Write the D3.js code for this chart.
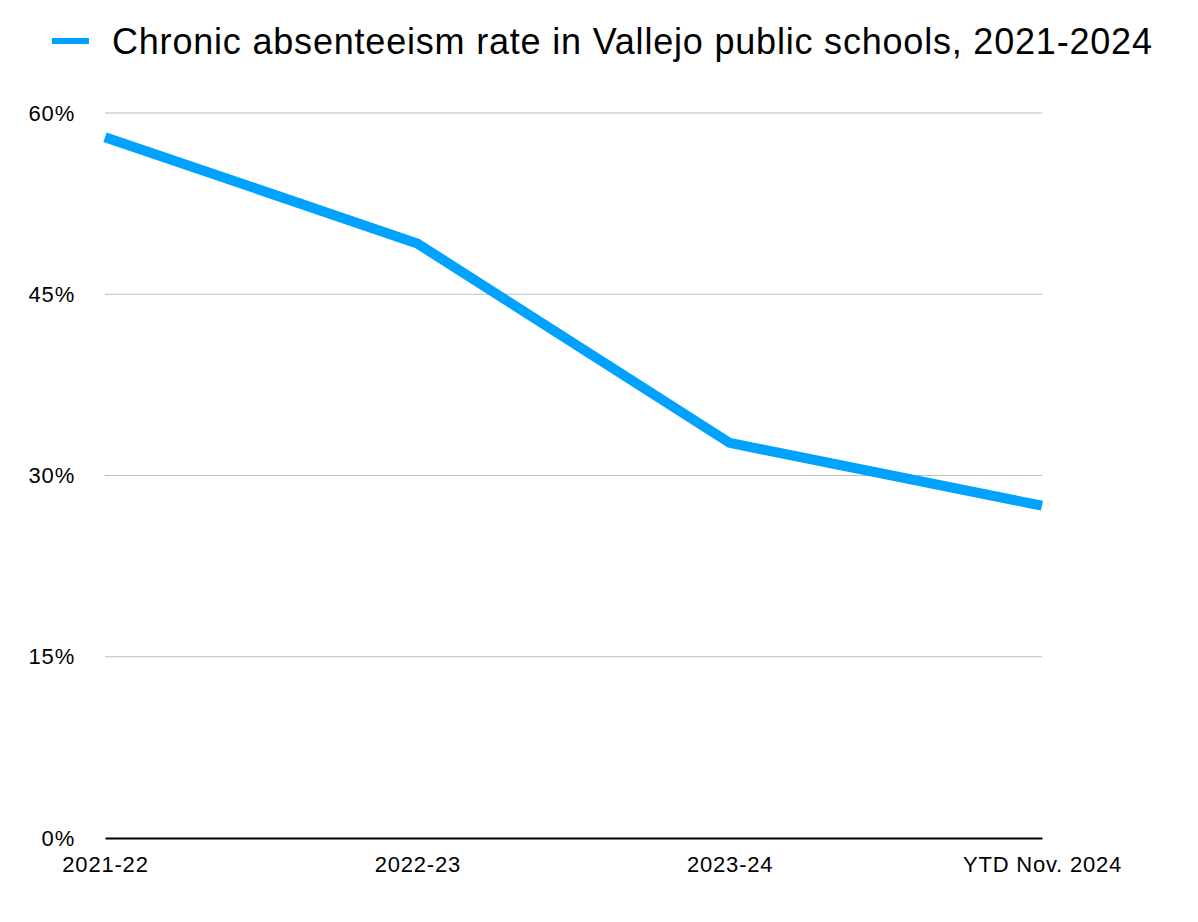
<!DOCTYPE html>
<html>
<head>
<meta charset="utf-8">
<script src="https://cdn.jsdelivr.net/npm/d3@7"></script>
<style>
  body { margin: 0; background: #fff; }
  text { font-family: "Liberation Sans", Arial, Helvetica, sans-serif; }
</style>
</head>
<body>
<svg id="chart" width="1198" height="922"></svg>
<script>
const seriesName = 'Chronic absenteeism rate in Vallejo public schools, 2021-2024';
const categories = ['2021-22', '2022-23', '2023-24', 'YTD Nov. 2024'];
const rates = [58.0, 49.2, 32.7, 27.5];
const yTicks = [0, 15, 30, 45, 60];

const svg = d3.select('#chart');
const margin = { top: 113, right: 156, bottom: 84, left: 105 };
const width = +svg.attr('width') - margin.left - margin.right;
const height = +svg.attr('height') - margin.top - margin.bottom;
const blue = '#00a2ff';
const labelFont = '"Liberation Sans", Arial, sans-serif';

const x = d3.scalePoint().domain(categories).range([0, width]);
const y = d3.scaleLinear().domain([0, 60]).range([height, 0]);

const g = svg.append('g').attr('transform', `translate(${margin.left},${margin.top})`);

// grid
g.append('g')
  .selectAll('line')
  .data(yTicks.filter(d => d > 0))
  .join('line')
  .attr('x1', 0).attr('x2', width)
  .attr('y1', d => y(d)).attr('y2', d => y(d))
  .attr('stroke', '#bdbdbd').attr('stroke-width', 1);

// y labels
const yAxis = g.append('g')
  .call(d3.axisLeft(y).tickValues(yTicks).tickFormat(d => d + '%').tickSize(0).tickPadding(30));
yAxis.select('.domain').remove();
yAxis.selectAll('text').attr('font-size', 22).attr('fill', '#000')
  .attr('font-family', labelFont).attr('letter-spacing', 0.8);

// x axis
const xAxis = g.append('g').attr('transform', `translate(0,${height})`)
  .call(d3.axisBottom(x).tickSize(0).tickPadding(18));
xAxis.select('.domain').attr('stroke', '#000').attr('stroke-width', 2);
xAxis.selectAll('text').attr('font-size', 22).attr('fill', '#000')
  .attr('font-family', labelFont).attr('letter-spacing', 0.8);

// line
const line = d3.line().x((d, i) => x(categories[i])).y(d => y(d));
g.append('path')
  .datum(rates)
  .attr('d', line)
  .attr('fill', 'none')
  .attr('stroke', blue)
  .attr('stroke-width', 10)
  .attr('stroke-linejoin', 'miter');

// legend
const legend = svg.append('g').attr('transform', 'translate(52,41)');
legend.append('line')
  .attr('x1', 0).attr('x2', 37).attr('y1', 0).attr('y2', 0)
  .attr('stroke', blue).attr('stroke-width', 6);
legend.append('text')
  .attr('x', 60).attr('y', 13)
  .attr('font-size', 36)
  .attr('letter-spacing', 0.8)
  .attr('fill', '#000')
  .text(seriesName);
</script>
</body>
</html>
